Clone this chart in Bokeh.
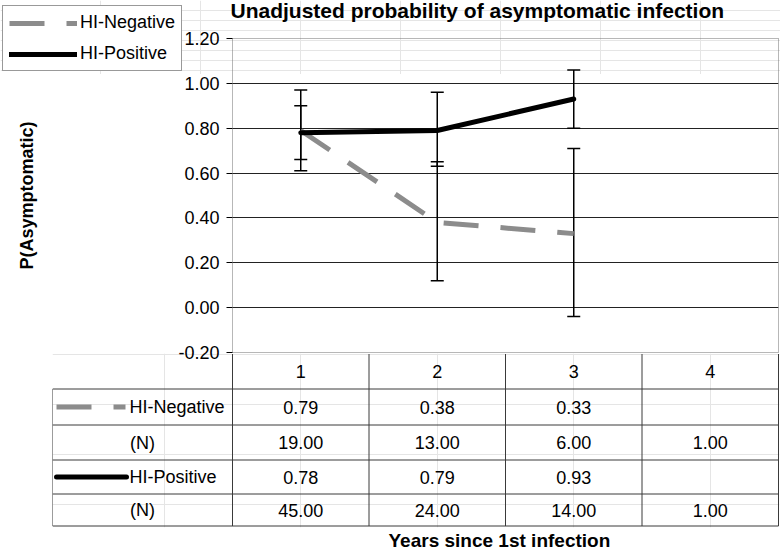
import math
from bokeh.plotting import figure
from bokeh.models import (Range1d, FixedTicker, NumeralTickFormatter, Legend, LegendItem,
                          Whisker, TeeHead, ColumnDataSource, Title, Label)
from bokeh.core.properties import value
from bokeh.embed import file_html
from bokeh.resources import INLINE

# ---------------- data ----------------
years = [1, 2, 3, 4]
year_labels = ["1", "2", "3", "4"]
neg_p = [0.79, 0.38, 0.33, None]
neg_n = [19.0, 13.0, 6.0, 1.0]
neg_lo = [0.61, 0.12, -0.04]
neg_hi = [0.97, 0.65, 0.71]
pos_p = [0.78, 0.79, 0.93, None]
pos_n = [45.0, 24.0, 14.0, 1.0]
pos_lo = [0.66, 0.63, 0.80]
pos_hi = [0.90, 0.96, 1.06]
y_ticks = [-0.2, 0.0, 0.2, 0.4, 0.6, 0.8, 1.0, 1.2]
series_names = ["HI-Negative", "HI-Positive"]
n_label = "(N)"
title_text = "Unadjusted probability of asymptomatic infection"
y_title = "P(Asymptomatic)"
x_title = "Years since 1st infection"

FONT = "Liberation Sans"
NEG_COLOR = "#8c8c8c"
NEG_DASH = "35 22"
GRID = "#222222"
RULE = "#3a3a3a"
FS = "18px"

def nan(v):
    return float("nan") if v is None else v

# ---------------- chart ----------------
p = figure(width=780, height=372, x_range=Range1d(0.5, 4.5), y_range=Range1d(-0.2, 1.2),
           output_backend="svg", toolbar_location=None, x_axis_location=None, title=None,
           min_border_left=232, min_border_right=2, min_border_top=38, min_border_bottom=20)
p.xgrid.visible = False
p.ygrid.ticker = FixedTicker(ticks=y_ticks)
p.ygrid.grid_line_color = GRID
p.ygrid.grid_line_width = 1
p.outline_line_color = "#6f6f6f"
p.outline_line_dash = "1 1"
p.outline_line_width = 1
p.border_fill_alpha = 0
p.background_fill_alpha = 0

ya = p.yaxis[0]
ya.ticker = FixedTicker(ticks=y_ticks)
ya.formatter = NumeralTickFormatter(format="0.00")
ya.major_label_text_font = FONT
ya.major_label_text_font_size = FS
ya.major_label_text_color = "black"
ya.major_tick_out = 6
ya.major_tick_in = 0
ya.minor_tick_out = 0
ya.minor_tick_in = 0
ya.major_tick_line_color = "black"
ya.major_label_standoff = 7
ya.axis_line_color = None
ya.axis_label = y_title
ya.axis_label_text_font = FONT
ya.axis_label_text_font_size = "18px"
ya.axis_label_text_font_style = "bold"
ya.axis_label_text_color = "black"
ya.axis_label_standoff = 138

# error bars
for lo, hi in ((neg_lo, neg_hi), (pos_lo, pos_hi)):
    src = ColumnDataSource(dict(x=years[:len(lo)], lo=lo, hi=hi))
    p.add_layout(Whisker(source=src, base="x", lower="lo", upper="hi", dimension="height",
                         line_color="black", line_width=1.5,
                         lower_head=TeeHead(size=13, line_color="black", line_width=1.5),
                         upper_head=TeeHead(size=13, line_color="black", line_width=1.5)))

p.line(years, [nan(v) for v in neg_p], line_color=NEG_COLOR, line_width=5, line_dash=NEG_DASH)
p.line(years, [nan(v) for v in pos_p], line_color="black", line_width=5,
       line_cap="round", line_join="round")
p.styles = {"position": "absolute", "left": "0px", "top": "0px", "z-index": "6"}

# ---------------- title and legend strip (top of the page) ----------------
ov = figure(width=780, height=74, x_range=Range1d(0, 780), y_range=Range1d(74, 0),
            output_backend="svg", toolbar_location=None, x_axis_location=None,
            y_axis_location=None, min_border=0, title=None)
ov.outline_line_color = None
ov.background_fill_alpha = 0
ov.border_fill_alpha = 0
ov.add_layout(Label(x=230, y=10, text=title_text, text_baseline="alphabetic",
                    text_align="left", text_font=FONT, text_font_size="21px",
                    text_font_style="bold", text_color="black"))
# key glyphs only (their points lie outside this strip's ranges)
k_neg = ov.line([900, 901], [900, 901], line_color=NEG_COLOR, line_width=5, line_dash=NEG_DASH)
k_pos = ov.line([900, 901], [900, 901], line_color="black", line_width=5, line_cap="round")
legend = Legend(items=[LegendItem(label=series_names[0], renderers=[k_neg]),
                       LegendItem(label=series_names[1], renderers=[k_pos])],
                location=(2, 3), orientation="vertical")
legend.border_line_color = "#333333"
legend.border_line_width = 1
legend.background_fill_color = "white"
legend.background_fill_alpha = 1
legend.label_text_font = FONT
legend.label_text_font_size = FS
legend.label_text_color = "black"
legend.glyph_width = 68
legend.glyph_height = 20
legend.label_height = 20
legend.label_standoff = 3
legend.spacing = 10
legend.padding = 6
legend.margin = 0
ov.add_layout(legend)
ov.styles = {"position": "absolute", "left": "0px", "top": "0px", "z-index": "5"}

# ---------------- data table ----------------
PX = 546 / 4.0                 # pixels per year column
left = 0.5 - 180 / PX          # left edge of the label column
right = left + 727 / PX
row_edges = [0, 35, 71, 106, 140, 172]

t = figure(width=780, height=198, x_range=Range1d(left, right), y_range=Range1d(173.5, -0.5),
           output_backend="svg", toolbar_location=None, x_axis_location=None,
           y_axis_location=None, min_border_left=52, min_border_right=1,
           min_border_top=0, min_border_bottom=24, title=None)
t.outline_line_color = None
t.background_fill_alpha = 0
t.border_fill_alpha = 0
t.styles = {"position": "absolute", "left": "0px", "top": "353px", "z-index": "4"}

hx0 = [left] * (len(row_edges) - 1)
hx1 = [4.5] * (len(row_edges) - 1)
hy = row_edges[1:]
t.segment(hx0, hy, hx1, hy, line_color=RULE, line_width=1)
vx = [left] + [c + 0.5 for c in [0] + years]
vy0 = [row_edges[1]] + [row_edges[0]] * (len(years) + 1)
vy1 = [row_edges[-1]] * len(vx)
t.segment(vx, vy0, vx, vy1, line_color=RULE, line_width=1)

centers = [(row_edges[i] + row_edges[i + 1]) / 2 for i in range(len(row_edges) - 1)]
t.text(years, [centers[0]] * len(years), text=year_labels, text_align="center",
       text_baseline="middle", text_font=value(FONT), text_font_size=FS, text_color="black")

rows = [neg_p, neg_n, pos_p, pos_n]
cx, cy, ct = [], [], []
for r, vals in enumerate(rows):
    for yr, v in zip(years, vals):
        if v is None:
            continue
        cx.append(yr); cy.append(centers[r + 1]); ct.append("{:.2f}".format(v))
t.text(cx, cy, text=ct, text_align="center", text_baseline="middle",
       text_font=value(FONT), text_font_size=FS, text_color="black")

lab_x = left + 77 / PX
t.text([lab_x, lab_x], [centers[1], centers[3]], text=series_names,
       text_align="left", text_baseline="middle",
       text_font=value(FONT), text_font_size=FS, text_color="black")
mid_left = (left + 0.5) / 2
t.text([mid_left, mid_left], [centers[2], centers[4]], text=[n_label, n_label],
       text_align="center", text_baseline="middle",
       text_font=value(FONT), text_font_size=FS, text_color="black")
t.line([left + 4 / PX, left + 73 / PX], [centers[1]] * 2, line_color=NEG_COLOR, line_width=5,
       line_dash=NEG_DASH)
t.line([left + 4 / PX, left + 74 / PX], [centers[3]] * 2, line_color="black", line_width=5,
       line_cap="round")

t.add_layout(Title(text=x_title, align="left", offset=336, standoff=0,
                   text_font=FONT, text_font_size="19px", text_font_style="bold",
                   text_color="black"), "below")

open("out.html", "w").write(file_html([p, t, ov], INLINE))
